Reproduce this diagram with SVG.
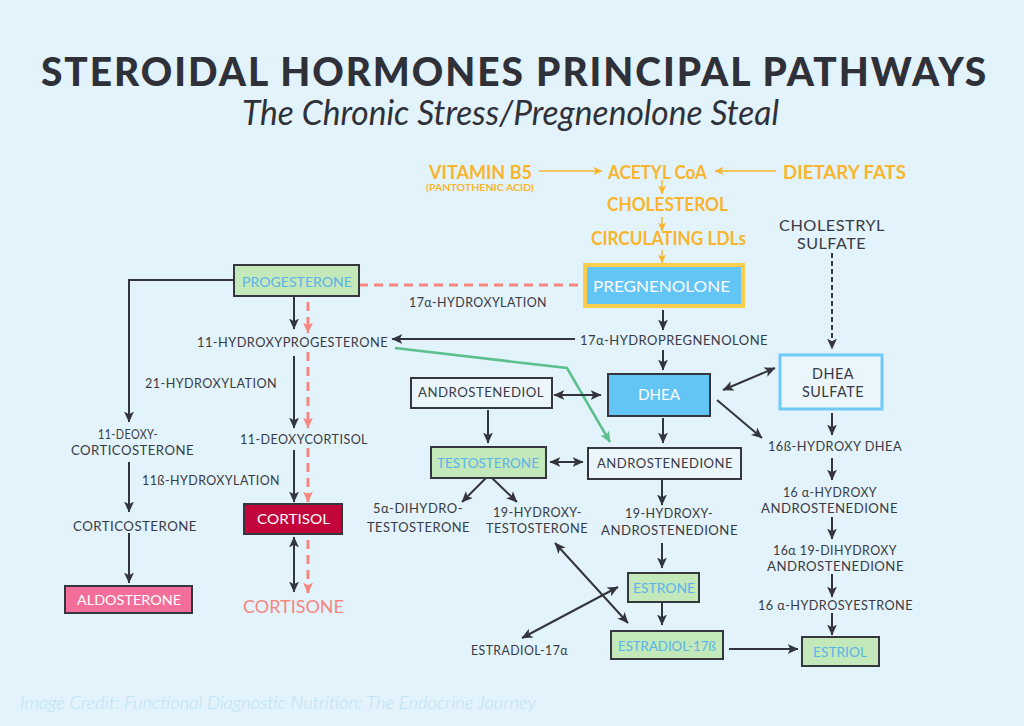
<svg xmlns="http://www.w3.org/2000/svg" width="1024" height="726" viewBox="0 0 1024 726">
<defs>
<marker id="ad" viewBox="0 0 10 10" refX="9.5" refY="5" markerWidth="11" markerHeight="11" markerUnits="userSpaceOnUse" orient="auto-start-reverse"><path d="M0,0.5 L10,5 L0,9.5 L2.5,5 Z" fill="#34343c"/></marker>
<marker id="as" viewBox="0 0 10 10" refX="9.5" refY="5" markerWidth="11" markerHeight="11" markerUnits="userSpaceOnUse" orient="auto"><path d="M0,0.5 L10,5 L0,9.5 L2.5,5 Z" fill="#f7867f"/></marker>
<marker id="ag" viewBox="0 0 10 10" refX="9.5" refY="5" markerWidth="11" markerHeight="11" markerUnits="userSpaceOnUse" orient="auto"><path d="M0,0.5 L10,5 L0,9.5 L2.5,5 Z" fill="#5cbf8c"/></marker>
<marker id="ao" viewBox="0 0 10 10" refX="9.5" refY="5" markerWidth="9" markerHeight="9" markerUnits="userSpaceOnUse" orient="auto"><path d="M0,0.5 L10,5 L0,9.5 L2.5,5 Z" fill="#f9b52c"/></marker>
</defs>
<style>
text{font-family:Lato,"Open Sans","DejaVu Sans",sans-serif;}
.t{font-size:14px;fill:#3a3a44;letter-spacing:0.5px;}
.o{font-size:18px;fill:#f9b52c;font-weight:bold;}
.bw{font-size:15px;fill:#ffffff;}
.bb{font-size:14px;fill:#5bb3ea;}
.bx{stroke:#36363e;stroke-width:2;}
.w{fill:#eaf6fb;}
.g{fill:#c3e8b9;}
.c{stroke:#34343c;stroke-width:2;fill:none;marker-end:url(#ad);}
.dbl{marker-start:url(#ad);}
.s{stroke:#f7867f;stroke-width:3;fill:none;stroke-dasharray:9 6;}
.sa{marker-end:url(#as);}
.oa{stroke:#f9b52c;stroke-width:1.5;fill:none;marker-end:url(#ao);}
</style>
<rect width="1024" height="726" fill="#e2f3fb"/>
<g id="title">
<text x="41" y="86" textLength="947" lengthAdjust="spacingAndGlyphs" style="font-size:40px;font-weight:900;fill:#303038;letter-spacing:2px">STEROIDAL HORMONES PRINCIPAL PATHWAYS</text>
<text x="242" y="125" textLength="537" lengthAdjust="spacingAndGlyphs" style="font-size:34px;font-style:italic;font-weight:normal;fill:#303038">The Chronic Stress/Pregnenolone Steal</text>
</g>
<g id="connectors">
<path class="oa" d="M539,171 H602"/>
<path class="oa" d="M776,171 H715"/>
<path class="oa" d="M662,180 V194"/>
<path class="oa" d="M662,217 V231"/>
<path class="oa" d="M662,250 V263"/>
<path class="s" d="M359,285 H583"/>
<path class="s sa" d="M308,302 V333"/>
<path class="s sa" d="M308,352 V428"/>
<path class="s sa" d="M308,448 V502"/>
<path class="s sa" d="M308,540 V593"/>
<path d="M395,348 L567,368 L610,442" stroke="#5cbf8c" stroke-width="2.5" fill="none" marker-end="url(#ag)"/>
<path class="c" d="M234,280 H129 V422"/>
<path class="c" d="M294,296 V329"/>
<path class="c" d="M294,356 V428"/>
<path class="c" d="M294,450 V502"/>
<path class="c dbl" d="M294,537 V592"/>
<path class="c" d="M129,462 V512"/>
<path class="c" d="M129,533 V583"/>
<path class="c" d="M575,339 H392"/>
<path class="c" d="M663,310 V330"/>
<path class="c" d="M663,350 V370"/>
<path class="c" d="M663,418 V443"/>
<path class="c" d="M488,410 V443"/>
<path class="c dbl" d="M554,395 H601"/>
<path class="c dbl" d="M723,390 L775,368"/>
<path class="c" d="M717,400 L762,438"/>
<path class="c" d="M832,253 V349" stroke-dasharray="5 3"/>
<path class="c" d="M832,413 V435"/>
<path class="c" d="M832,458 V480"/>
<path class="c" d="M832,517 V539"/>
<path class="c" d="M832,574 V597"/>
<path class="c" d="M832,613 V635"/>
<path class="c dbl" d="M550,462 H583"/>
<path class="c" d="M486,478 L462,502"/>
<path class="c" d="M492,478 L517,502"/>
<path class="c" d="M662,480 V505"/>
<path class="c" d="M662,543 V568"/>
<path class="c" d="M662,602 V625"/>
<path class="c dbl" d="M555,543 L628,623"/>
<path class="c dbl" d="M522,638 L618,587"/>
<path class="c" d="M729,649 H798"/>
</g>
<g id="vitamin-b5">
<text class="o" x="429" y="179" textLength="103" lengthAdjust="spacingAndGlyphs">VITAMIN B5</text>
<text x="426" y="191" textLength="108" lengthAdjust="spacingAndGlyphs" style="font-size:8.5px;fill:#f9b52c;font-weight:bold">(PANTOTHENIC ACID)</text>
</g>
<g id="acetyl-coa"><text class="o" x="608" y="179" textLength="99" lengthAdjust="spacingAndGlyphs">ACETYL CoA</text></g>
<g id="dietary-fats"><text class="o" x="783" y="179" textLength="123" lengthAdjust="spacingAndGlyphs">DIETARY FATS</text></g>
<g id="cholesterol"><text class="o" x="607" y="211" textLength="121" lengthAdjust="spacingAndGlyphs">CHOLESTEROL</text></g>
<g id="ldls"><text class="o" x="591" y="245" textLength="155" lengthAdjust="spacingAndGlyphs">CIRCULATING LDLs</text></g>
<g id="cholestryl-sulfate">
<text class="t" x="779" y="231" textLength="106" lengthAdjust="spacingAndGlyphs" style="font-size:16px">CHOLESTRYL</text>
<text class="t" x="797" y="249" textLength="69" lengthAdjust="spacingAndGlyphs" style="font-size:16px">SULFATE</text>
</g>
<g id="pregnenolone">
<rect x="585" y="265" width="158" height="41" fill="#63c4f6" stroke="#f9cd4e" stroke-width="4"/>
<text class="bw" x="593" y="292" textLength="137" lengthAdjust="spacingAndGlyphs">PREGNENOLONE</text>
</g>
<g id="progesterone">
<rect class="bx g" x="234" y="265" width="125" height="31"/>
<text class="bb" x="242" y="287" textLength="110" lengthAdjust="spacingAndGlyphs">PROGESTERONE</text>
</g>
<g id="hydroxylation-17a"><text class="t" x="409" y="307" textLength="138" lengthAdjust="spacingAndGlyphs">17α-HYDROXYLATION</text></g>
<g id="hydroxyprogesterone"><text class="t" x="197" y="347" textLength="191" lengthAdjust="spacingAndGlyphs">11-HYDROXYPROGESTERONE</text></g>
<g id="hydropregnenolone"><text class="t" x="580" y="345" textLength="188" lengthAdjust="spacingAndGlyphs">17α-HYDROPREGNENOLONE</text></g>
<g id="hydroxylation-21"><text class="t" x="145" y="388" textLength="132" lengthAdjust="spacingAndGlyphs">21-HYDROXYLATION</text></g>
<g id="deoxycorticosterone">
<text class="t" x="98" y="439" textLength="60" lengthAdjust="spacingAndGlyphs">11-DEOXY-</text>
<text class="t" x="71" y="455" textLength="123" lengthAdjust="spacingAndGlyphs">CORTICOSTERONE</text>
</g>
<g id="deoxycortisol"><text class="t" x="240" y="444" textLength="128" lengthAdjust="spacingAndGlyphs">11-DEOXYCORTISOL</text></g>
<g id="hydroxylation-11b"><text class="t" x="142" y="485" textLength="138" lengthAdjust="spacingAndGlyphs">11ß-HYDROXYLATION</text></g>
<g id="corticosterone"><text class="t" x="73" y="531" textLength="124" lengthAdjust="spacingAndGlyphs">CORTICOSTERONE</text></g>
<g id="cortisol">
<rect class="bx" x="244" y="504" width="98" height="30" fill="#c2053a"/>
<text class="bw" x="257" y="524" textLength="73" lengthAdjust="spacingAndGlyphs" style="font-size:14px">CORTISOL</text>
</g>
<g id="aldosterone">
<rect class="bx" x="65" y="586" width="127" height="27" fill="#f46e9a"/>
<text class="bw" x="77" y="605" textLength="104" lengthAdjust="spacingAndGlyphs" style="font-size:14px">ALDOSTERONE</text>
</g>
<g id="cortisone"><text x="243" y="613" textLength="101" lengthAdjust="spacingAndGlyphs" style="font-size:17px;fill:#f7867f">CORTISONE</text></g>
<g id="androstenediol">
<rect class="bx w" x="411" y="378" width="141" height="30"/>
<text class="t" x="418" y="397" textLength="126" lengthAdjust="spacingAndGlyphs">ANDROSTENEDIOL</text>
</g>
<g id="dhea">
<rect class="bx" x="608" y="374" width="102" height="42" fill="#63c4f6"/>
<text class="bw" x="638" y="400" textLength="42" lengthAdjust="spacingAndGlyphs">DHEA</text>
</g>
<g id="dhea-sulfate">
<rect x="780" y="355" width="102" height="54" fill="#eaf6fb" stroke="#70c9f7" stroke-width="3"/>
<text class="t" x="812" y="379" textLength="42" lengthAdjust="spacingAndGlyphs" style="font-size:15px">DHEA</text>
<text class="t" x="802" y="397" textLength="62" lengthAdjust="spacingAndGlyphs" style="font-size:15px">SULFATE</text>
</g>
<g id="testosterone">
<rect class="bx g" x="431" y="447" width="115" height="31"/>
<text class="bb" x="437" y="468" textLength="102" lengthAdjust="spacingAndGlyphs">TESTOSTERONE</text>
</g>
<g id="androstenedione">
<rect class="bx w" x="588" y="448" width="153" height="31"/>
<text class="t" x="597" y="468" textLength="136" lengthAdjust="spacingAndGlyphs">ANDROSTENEDIONE</text>
</g>
<g id="dihydrotestosterone">
<text class="t" x="373" y="513" textLength="90" lengthAdjust="spacingAndGlyphs">5α-DIHYDRO-</text>
<text class="t" x="367" y="532" textLength="103" lengthAdjust="spacingAndGlyphs">TESTOSTERONE</text>
</g>
<g id="hydroxytestosterone">
<text class="t" x="493" y="517" textLength="89" lengthAdjust="spacingAndGlyphs">19-HYDROXY-</text>
<text class="t" x="486" y="533" textLength="102" lengthAdjust="spacingAndGlyphs">TESTOSTERONE</text>
</g>
<g id="hydroxyandrostenedione">
<text class="t" x="625" y="518" textLength="88" lengthAdjust="spacingAndGlyphs">19-HYDROXY-</text>
<text class="t" x="601" y="535" textLength="137" lengthAdjust="spacingAndGlyphs">ANDROSTENEDIONE</text>
</g>
<g id="estrone">
<rect class="bx g" x="628" y="573" width="71" height="29"/>
<text class="bb" x="633" y="593" textLength="62" lengthAdjust="spacingAndGlyphs">ESTRONE</text>
</g>
<g id="estradiol-17b">
<rect class="bx g" x="611" y="631" width="112" height="28"/>
<text class="bb" x="618" y="651" textLength="98" lengthAdjust="spacingAndGlyphs">ESTRADIOL-17ß</text>
</g>
<g id="estradiol-17a"><text class="t" x="471" y="655" textLength="97" lengthAdjust="spacingAndGlyphs">ESTRADIOL-17α</text></g>
<g id="hydroxy-dhea-16b"><text class="t" x="768" y="451" textLength="134" lengthAdjust="spacingAndGlyphs">16ß-HYDROXY DHEA</text></g>
<g id="hydroxyandrostenedione-16a">
<text class="t" x="783" y="497" textLength="94" lengthAdjust="spacingAndGlyphs">16 α-HYDROXY</text>
<text class="t" x="761" y="513" textLength="137" lengthAdjust="spacingAndGlyphs">ANDROSTENEDIONE</text>
</g>
<g id="dihydroxyandrostenedione">
<text class="t" x="773" y="555" textLength="124" lengthAdjust="spacingAndGlyphs">16α 19-DIHYDROXY</text>
<text class="t" x="767" y="571" textLength="137" lengthAdjust="spacingAndGlyphs">ANDROSTENEDIONE</text>
</g>
<g id="hydrosyestrone"><text class="t" x="758" y="610" textLength="155" lengthAdjust="spacingAndGlyphs">16 α-HYDROSYESTRONE</text></g>
<g id="estriol">
<rect class="bx g" x="802" y="637" width="77" height="29"/>
<text class="bb" x="813" y="657" textLength="54" lengthAdjust="spacingAndGlyphs">ESTRIOL</text>
</g>
<g id="credit"><text x="20" y="709" textLength="516" lengthAdjust="spacingAndGlyphs" style="font-size:18px;font-style:italic;font-weight:300;fill:#bde1f3">Image Credit: Functional Diagnostic Nutrition: The Endocrine Journey</text></g>
</svg>
